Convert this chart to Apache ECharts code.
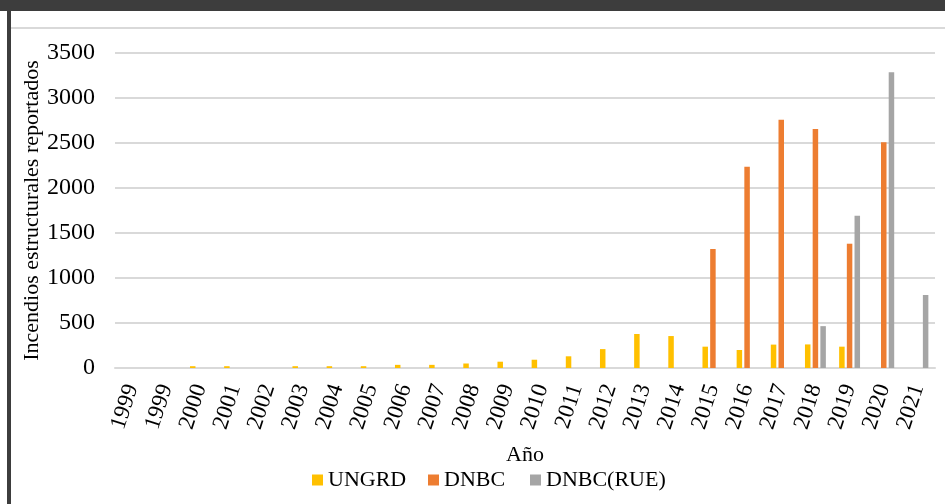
<!DOCTYPE html>
<html>
<head>
<meta charset="utf-8">
<script src="https://cdn.jsdelivr.net/npm/echarts@6/dist/echarts.min.js"></script>
<style>
  html, body { margin: 0; padding: 0; background: #fff; }
  #chart { width: 945px; height: 504px; }
</style>
</head>
<body>
<div id="chart"></div>
<script>
// categorías del eje x (el original repite 1999)
const years = ['1999', '1999 ', '2000', '2001', '2002', '2003', '2004', '2005', '2006', '2007', '2008',
  '2009', '2010', '2011', '2012', '2013', '2014', '2015', '2016', '2017', '2018', '2019', '2020', '2021']
// valores
const ungrd = [0, 0, 20, 20, 0, 20, 20, 20, 35, 35, 50,
  70, 92, 130, 210, 378, 355, 237, 200, 260, 262, 237, 0, 0]
const dnbc = [0, 0, 0, 0, 0, 0, 0, 0, 0, 0, 0,
  0, 0, 0, 0, 0, 0, 1322, 2237, 2759, 2656, 1381, 2507, 0]
const dnbcRue = [0, 0, 0, 0, 0, 0, 0, 0, 0, 0, 0,
  0, 0, 0, 0, 0, 0, 0, 0, 0, 465, 1692, 3285, 811]
const yTicks = [0, 500, 1000, 1500, 2000, 2500, 3000, 3500]
const seriesNames = ['UNGRD', 'DNBC', 'DNBC(RUE)']

const font = 'Liberation Serif'
const chart = echarts.init(document.getElementById('chart'))

function barSeries(name, data, color) {
  return {
    name: name,
    type: 'bar',
    data: data,
    barWidth: 5.5,
    barGap: '40%',
    itemStyle: { color: color },
    emphasis: { disabled: true }
  }
}

// una leyenda por serie para fijar la posición de cada elemento
const legendLeft = [312, 428, 530]
const legends = seriesNames.map((name, i) => ({
  left: legendLeft[i],
  top: 469,
  padding: 0,
  itemWidth: 11,
  itemHeight: 11,
  icon: 'rect',
  textStyle: { fontFamily: font, fontSize: 22, color: '#000' },
  data: [name]
}))

chart.setOption({
  backgroundColor: '#fff',
  animation: false,
  textStyle: { fontFamily: font, color: '#000' },
  // marco oscuro de la captura original
  graphic: [
    { type: 'rect', shape: { x: 0, y: 0, width: 945, height: 11 }, style: { fill: '#3d3d3d' } },
    { type: 'rect', shape: { x: 7, y: 0, width: 4, height: 504 }, style: { fill: '#3d3d3d' } },
    { type: 'rect', shape: { x: 11, y: 27, width: 934, height: 2 }, style: { fill: '#d9d9d9' } }
  ],
  grid: {
    left: 115,
    right: 10,
    top: 53,
    bottom: 136
  },
  legend: legends,
  xAxis: {
    type: 'category',
    data: years,
    name: 'Año',
    nameLocation: 'middle',
    nameGap: 76,
    nameMoveOverlap: false,
    nameTextStyle: { fontFamily: font, fontSize: 22, color: '#000' },
    axisLine: { lineStyle: { color: '#d9d9d9', width: 2 } },
    axisTick: { show: false },
    axisLabel: {
      rotate: 72,
      interval: 0,
      margin: 17,
      fontFamily: font,
      fontSize: 23,
      color: '#000',
      formatter: v => v.trim()
    }
  },
  yAxis: {
    type: 'value',
    min: 0,
    max: 3500,
    interval: 500,
    name: 'Incendios estructurales reportados',
    nameLocation: 'middle',
    nameGap: 72,
    nameMoveOverlap: false,
    nameTextStyle: { fontFamily: font, fontSize: 22, color: '#000' },
    axisLine: { show: false },
    axisTick: { show: false },
    axisLabel: {
      margin: 20,
      fontFamily: font,
      fontSize: 24,
      color: '#000',
      formatter: v => (yTicks.indexOf(v) >= 0 ? String(v) : '')
    },
    splitLine: { lineStyle: { color: '#d9d9d9', width: 2 } }
  },
  series: [
    barSeries(seriesNames[0], ungrd, '#ffc000'),
    barSeries(seriesNames[1], dnbc, '#ed7d31'),
    barSeries(seriesNames[2], dnbcRue, '#a5a5a5')
  ]
})
</script>
</body>
</html>
